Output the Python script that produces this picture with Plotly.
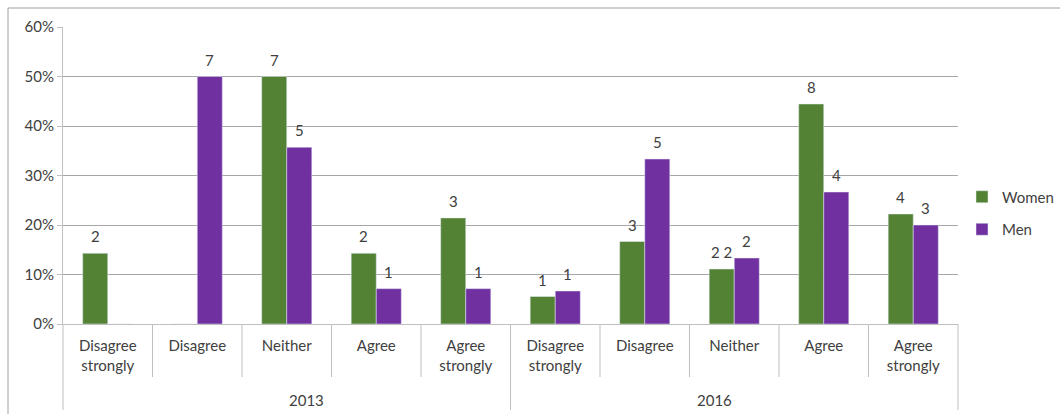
import plotly.graph_objects as go

# Survey responses by year (counts of respondents)
years = ["2013", "2016"]
responses = ["Disagree<br>strongly", "Disagree", "Neither", "Agree", "Agree<br>strongly"]
women_counts = [[2, 0, 7, 2, 3], [1, 3, 2, 8, 4]]
men_counts = [[0, 7, 5, 1, 1], [1, 5, 2, 4, 3]]
women_labels = ["2", "", "7", "2", "3", "1", "3", "2 2", "8", "4"]
men_labels = ["", "7", "5", "1", "1", "1", "5", "2", "4", "3"]
y_ticks = [0, 0.1, 0.2, 0.3, 0.4, 0.5, 0.6]

GREEN = "#548235"
PURPLE = "#7030A0"
TEXT = "#404040"
GRID = "#a6a6a6"
FONT = "Lato"

W, H = 1060, 414
M_L, M_R, M_T, M_B = 63, 102, 27, 90
PLOT_W = W - M_L - M_R
PLOT_H = H - M_T - M_B
BARGAP = 0.44


def shares(counts):
    out = []
    for row in counts:
        total = sum(row)
        out.extend(c / total for c in row)
    return out


women_share = shares(women_counts)
men_share = shares(men_counts)
n_cat = len(years) * len(responses)
xpos = list(range(n_cat))
ticktext = responses * len(years)


def px_x(px):
    return (px - M_L) / PLOT_W


def px_y(px):
    return (H - M_B - px) / PLOT_H


def cat_edge(k):
    # paper x of the boundary to the left of category k
    return k / n_cat


fig = go.Figure()
fig.add_trace(go.Bar(x=xpos, y=women_share, name="Women", marker_color=GREEN,
                     legendgroup="w"))
fig.add_trace(go.Bar(x=xpos, y=men_share, name="Men", marker_color=PURPLE,
                     legendgroup="m"))

# count labels above the bars
off = (1 - BARGAP) / 4
annotations = []
for i in xpos:
    for shift, val, lab in ((-off, women_share[i], women_labels[i]),
                            (off, men_share[i], men_labels[i])):
        if lab:
            annotations.append(dict(x=i + shift, y=val, xref="x", yref="y",
                                    text=lab, showarrow=False, yanchor="bottom",
                                    yshift=6, font=dict(family=FONT, size=15, color=TEXT)))

# year group labels
for g, yr in enumerate(years):
    centre = (g * len(responses) + len(responses) / 2) / n_cat
    annotations.append(dict(x=centre, y=0, xref="paper", yref="paper", text=yr,
                            showarrow=False, yanchor="middle", yshift=-76,
                            font=dict(family=FONT, size=15, color=TEXT)))

shapes = []
# category and group dividers beneath the axis
for k in range(n_cat + 1):
    is_group = k % len(responses) == 0
    bottom = 410 if is_group else 377
    shapes.append(dict(type="line", xref="paper", yref="paper",
                       x0=cat_edge(k), x1=cat_edge(k), y0=0, y1=px_y(bottom),
                       line=dict(color="#bfbfbf", width=1)))
# chart area frame
shapes.append(dict(type="rect", xref="paper", yref="paper",
                   x0=px_x(8), x1=px_x(W + 10), y0=px_y(H + 10), y1=px_y(8),
                   line=dict(color="#a0a0a0", width=1), fillcolor="rgba(0,0,0,0)"))

fig.update_layout(
    width=W, height=H,
    margin=dict(l=M_L, r=M_R, t=M_T, b=M_B, autoexpand=False),
    paper_bgcolor="white", plot_bgcolor="white",
    barmode="group", bargap=BARGAP, bargroupgap=0,
    font=dict(family=FONT, size=15, color=TEXT),
    legend=dict(x=px_x(962), y=px_y(213), xanchor="left", yanchor="middle",
                font=dict(family=FONT, size=15, color=TEXT),
                tracegroupgap=10, bgcolor="rgba(0,0,0,0)", itemwidth=30),
    annotations=annotations,
    shapes=shapes,
)
fig.update_xaxes(range=[-0.5, n_cat - 0.5], tickvals=xpos, ticktext=ticktext,
                 showgrid=False, showline=True, linecolor="#bfbfbf", ticks="",
                 ticklabelstandoff=8,
                 tickfont=dict(family=FONT, size=15, color=TEXT), zeroline=False,
                 fixedrange=True)
fig.update_yaxes(range=[0, 0.6], tickvals=y_ticks, tickformat=".0%",
                 showgrid=True, gridcolor=GRID, gridwidth=1,
                 showline=True, linecolor="#bfbfbf", ticks="outside", ticklen=5,
                 tickcolor="#bfbfbf", zeroline=False,
                 tickfont=dict(family=FONT, size=15, color=TEXT))

fig.write_html("out.html")
